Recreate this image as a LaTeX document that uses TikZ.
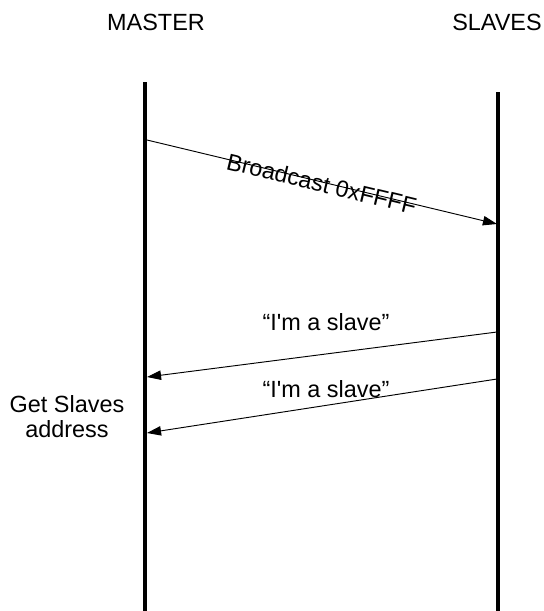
\documentclass[tikz,border=0pt]{standalone}
\usepackage{fontspec}
\setmainfont{Liberation Sans}
\usetikzlibrary{arrows.meta,positioning}

\begin{document}
\begin{tikzpicture}[
  x=0.03cm, y=-0.03cm,
  >={Triangle[length=12pt,width=8pt]},
  every node/.style={font=\fontsize{20}{21.5}\selectfont, inner sep=0pt},
  lifeline/.style={line width=2.6pt},
  msg/.style={->, line width=0.8pt}
]
  \useasboundingbox (0,0) rectangle (544,611);

  % Top labels
  \node (master) [anchor=base] at (156,30) {MASTER};
  \node (slaves) [anchor=base] at (497,30) {SLAVES};

  % Lifelines
  \coordinate (mtop) at (145,82);
  \coordinate (mbot) at (145,611);
  \coordinate (stop) at (498,92);
  \coordinate (sbot) at (498,611);
  \draw[lifeline] (mtop) -- (mbot);
  \draw[lifeline] (stop) -- (sbot);

  % Message end points
  \coordinate (bcA) at (147,140);
  \coordinate (bcB) at (497,224);
  \coordinate (r1A) at (497,332);
  \coordinate (r1B) at (147,377);
  \coordinate (r2A) at (497,379);
  \coordinate (r2B) at (147,433);

  % Messages
  \draw[msg] (bcA) -- (bcB) node (bclbl) [midway, sloped, yshift=-1.5pt] {Broadcast 0xFFFF};
  \draw[msg] (r1A) -- (r1B);
  \draw[msg] (r2A) -- (r2B);

  \node (reply1) [anchor=base] at (326,330) {“I\textquotesingle m a slave”};
  \node (reply2) [anchor=base] at (326,397) {“I\textquotesingle m a slave”};

  % Master side note
  \node (getaddr) [align=center] at (67,417) {Get Slaves\\address};
\end{tikzpicture}
\end{document}
